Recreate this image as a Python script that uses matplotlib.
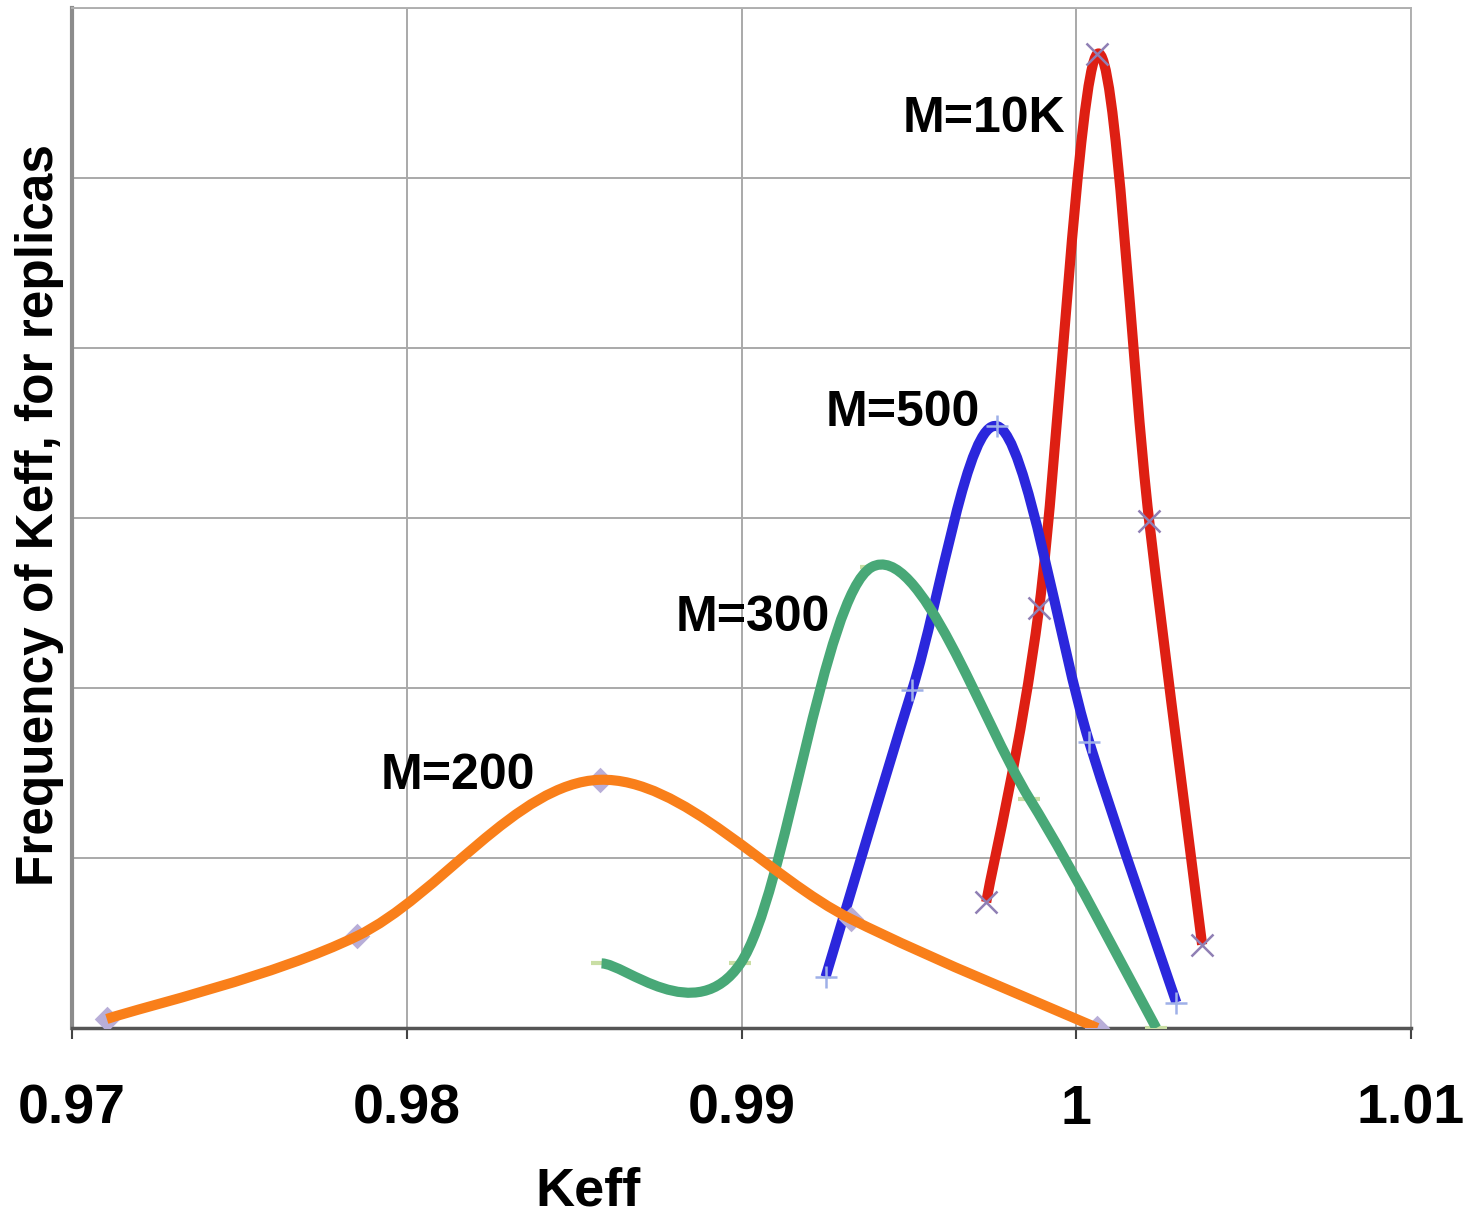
import numpy as np
import matplotlib
matplotlib.use("Agg")
import matplotlib.pyplot as plt
from matplotlib.path import Path
from matplotlib.patches import PathPatch

# ---- data ----
x_m200 = [0.97104, 0.97851, 0.98576, 0.99328, 1.00063]
y_m200 = [0.053, 0.54, 1.46, 0.64, 0.0]

x_m300 = [0.98582, 0.98997, 0.99388, 0.99860, 1.00239]
y_m300 = [0.38, 0.38, 2.71, 1.35, 0.0]

x_m500 = [0.99251, 0.99510, 0.99764, 1.00039, 1.00299]
y_m500 = [0.30, 1.99, 3.54, 1.68, 0.15]

x_m10k = [0.99731, 0.99889, 1.00063, 1.00218, 1.00376]
y_m10k = [0.74, 2.47, 5.73, 2.98, 0.49]

series_labels = ["M=200", "M=300", "M=500", "M=10K"]
label_pos_x = [0.98152, 0.99033, 0.99481, 0.99725]
label_pos_y = [1.48, 2.41, 3.62, 5.35]

xticks = [0.97, 0.98, 0.99, 1.0, 1.01]
xtick_labels = ["0.97", "0.98", "0.99", "1", "1.01"]
xlabel = "Keff"
ylabel = "Frequency of Keff, for replicas"

# ---- styling ----
colors = ["#f97f1a", "#48a877", "#2b27dc", "#de1f13"]
marker_styles = ["D", "_", "+", "x"]
marker_colors = ["#b8aed8", "#c9dea4", "#9fb0e8", "#8f7fb4"]
zorders = [6, 5, 4, 3]

plt.rcParams['font.family'] = ['Liberation Sans', 'DejaVu Sans']

fig = plt.figure(figsize=(14.68, 12.17), dpi=100)
ax = fig.add_axes([72/1468, 1-1028/1217, (1411-72)/1468, (1028-8)/1217])
ax.set_xlim(0.97, 1.01)
ax.set_ylim(0, 6)


def smooth_path(xs, ys):
    """Excel-style smoothed line: cubic Bezier segments through the points."""
    pts = np.column_stack([xs, ys]).astype(float)
    n = len(pts)
    verts = [pts[0]]
    codes = [Path.MOVETO]
    for i in range(n - 1):
        p0 = pts[i - 1] if i > 0 else pts[i]
        p1 = pts[i]
        p2 = pts[i + 1]
        p3 = pts[i + 2] if i + 2 < n else pts[i + 1]
        c1 = p1 + (p2 - p0) / 6.0
        c2 = p2 - (p3 - p1) / 6.0
        verts += [c1, c2, p2]
        codes += [Path.CURVE4] * 3
    return Path(verts, codes)


all_x = [x_m200, x_m300, x_m500, x_m10k]
all_y = [y_m200, y_m300, y_m500, y_m10k]

for xs, ys, c, m, mc, z in zip(all_x, all_y, colors, marker_styles, marker_colors, zorders):
    patch = PathPatch(smooth_path(xs, ys), facecolor='none', edgecolor=c,
                      lw=7.3, capstyle='butt', joinstyle='round', zorder=z)
    ax.add_patch(patch)
    ms = 11 if m == "D" else 16
    mew = 3 if m == "_" else 1.8
    ax.plot(xs, ys, linestyle='none', marker=m, markersize=ms,
            color=mc, markeredgecolor=mc, markeredgewidth=mew,
            zorder=z - 0.5 if m in ("D", "_") else z + 0.5)

for lab, lx, ly in zip(series_labels, label_pos_x, label_pos_y):
    ax.text(lx, ly, lab, ha='center', va='center', fontsize=36,
            fontweight='bold', color='black', zorder=10)

# grid
ax.set_yticks(np.arange(0, 7, 1))
ax.set_xticks(xticks)
ax.set_xticklabels(xtick_labels)
ax.grid(True, color='#a9a9a9', lw=1.4, zorder=0)
ax.set_axisbelow(True)
ax.tick_params(axis='y', left=False, labelleft=False)
ax.tick_params(axis='x', direction='out', length=8, width=1.5, color='#444444',
               labelsize=40, pad=32)
for lbl in ax.get_xticklabels():
    lbl.set_fontweight('bold')

ax.spines['left'].set_color('#8c8c8c')
ax.spines['left'].set_linewidth(3)
ax.spines['bottom'].set_color('#555555')
ax.spines['bottom'].set_linewidth(2.5)
ax.spines['top'].set_color('#b0b0b0')
ax.spines['top'].set_linewidth(1.4)
ax.spines['right'].set_color('#b0b0b0')
ax.spines['right'].set_linewidth(1.4)

fig.text(588/1468, 1-1192/1217, xlabel, ha='center', va='center',
         fontsize=39, fontweight='bold')
fig.text(40/1468, 1-515/1217, ylabel, ha='center', va='center',
         rotation=90, fontsize=37, fontweight='bold')

fig.savefig("out.png", dpi=100)
